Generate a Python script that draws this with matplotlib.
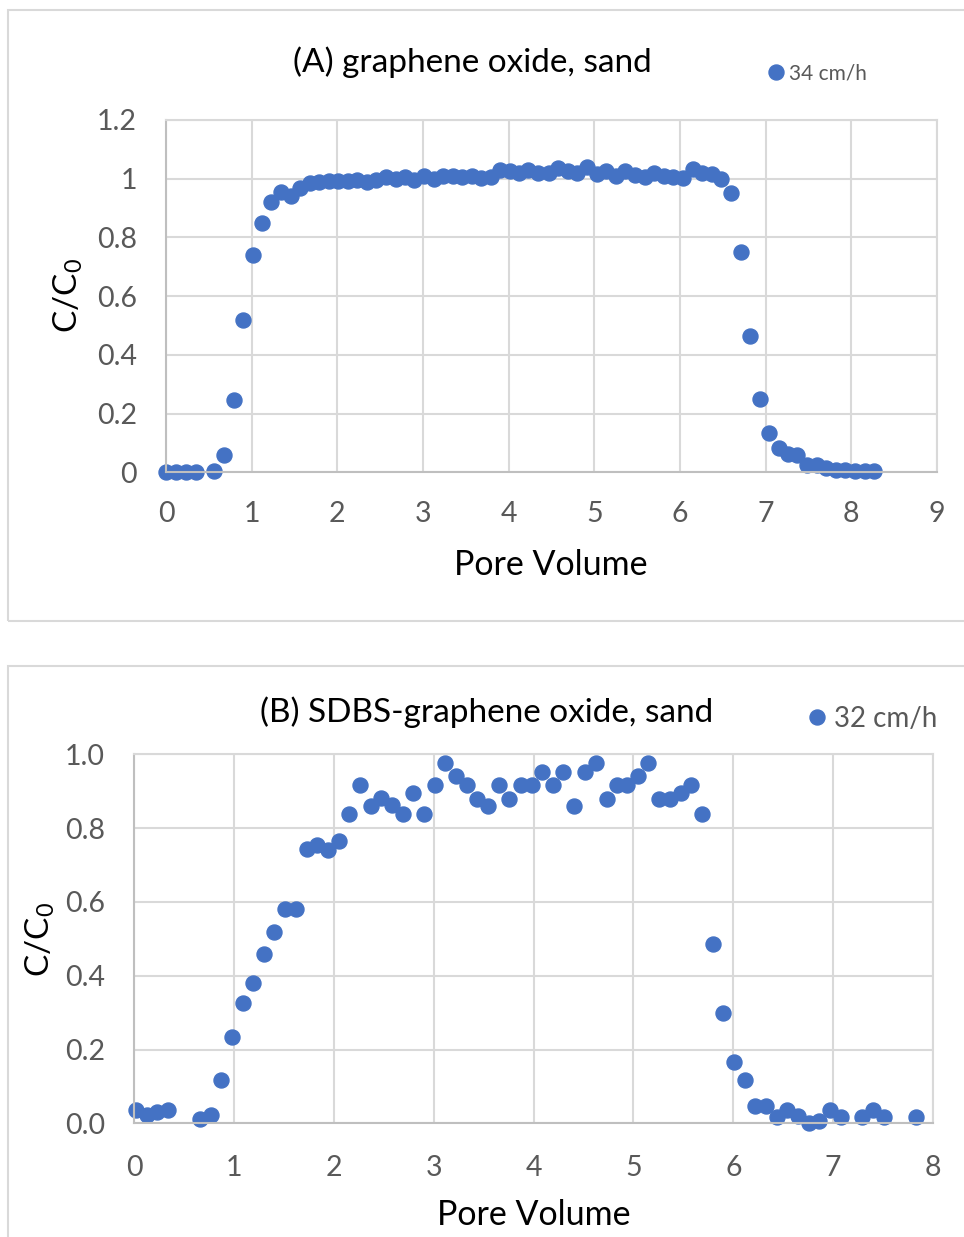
import matplotlib
matplotlib.use("Agg")
import matplotlib.pyplot as plt
from matplotlib.patches import Rectangle

plt.rcParams['font.family'] = ['Lato', 'DejaVu Sans']
plt.rcParams['mathtext.fontset'] = 'custom'
plt.rcParams['mathtext.rm'] = 'Lato'

# (A) graphene oxide, sand - 34 cm/h
pv_a = [0, 0.115, 0.23, 0.35, 0.56, 0.68, 0.79, 0.90, 1.01, 1.12,
        1.23, 1.345, 1.455, 1.57, 1.68, 1.79, 1.905, 2.01, 2.12, 2.235,
        2.345, 2.455, 2.57, 2.68, 2.79, 2.90, 3.01, 3.125, 3.23, 3.35,
        3.46, 3.57, 3.68, 3.79, 3.90, 4.01, 4.12, 4.23, 4.34, 4.47,
        4.58, 4.69, 4.80, 4.92, 5.03, 5.14, 5.25, 5.36, 5.47, 5.59,
        5.70, 5.81, 5.92, 6.03, 6.15, 6.26, 6.37, 6.48, 6.59, 6.71,
        6.82, 6.93, 7.04, 7.15, 7.26, 7.37, 7.48, 7.60, 7.71, 7.82,
        7.93, 8.04, 8.16, 8.27]
cc_a = [0.002, 0.0, 0.0, 0.001, 0.005, 0.06, 0.245, 0.52, 0.74, 0.85,
        0.92, 0.955, 0.94, 0.97, 0.985, 0.99, 0.993, 0.993, 0.993, 0.997,
        0.99, 0.997, 1.007, 1.0, 1.005, 0.997, 1.01, 1.0, 1.01, 1.01,
        1.007, 1.01, 1.002, 1.007, 1.03, 1.025, 1.02, 1.03, 1.02, 1.02,
        1.035, 1.027, 1.018, 1.039, 1.016, 1.027, 1.009, 1.027, 1.013, 1.007,
        1.02, 1.009, 1.007, 1.003, 1.032, 1.018, 1.016, 0.999, 0.95, 0.751,
        0.464, 0.248, 0.134, 0.084, 0.064, 0.058, 0.026, 0.024, 0.016, 0.009,
        0.009, 0.003, 0.003, 0.003]

# (B) SDBS-graphene oxide, sand - 32 cm/h
pv_b = [0.014, 0.124, 0.23, 0.34, 0.658, 0.765, 0.872, 0.979, 1.086, 1.192,
        1.30, 1.403, 1.51, 1.62, 1.727, 1.834, 1.94, 2.048, 2.154, 2.26,
        2.37, 2.475, 2.58, 2.69, 2.796, 2.90, 3.01, 3.116, 3.22, 3.33,
        3.437, 3.54, 3.65, 3.757, 3.87, 3.98, 4.08, 4.19, 4.295, 4.40,
        4.51, 4.62, 4.73, 4.83, 4.94, 5.05, 5.15, 5.26, 5.37, 5.475,
        5.58, 5.69, 5.795, 5.90, 6.01, 6.12, 6.22, 6.33, 6.437, 6.54,
        6.65, 6.757, 6.86, 6.97, 7.08, 7.29, 7.40, 7.505, 7.83]
cc_b = [0.036, 0.022, 0.03, 0.036, 0.013, 0.022, 0.116, 0.235, 0.327, 0.38,
        0.46, 0.519, 0.58, 0.58, 0.743, 0.753, 0.742, 0.766, 0.837, 0.917,
        0.86, 0.882, 0.862, 0.838, 0.894, 0.838, 0.917, 0.976, 0.941, 0.917,
        0.88, 0.86, 0.917, 0.88, 0.917, 0.917, 0.951, 0.917, 0.951, 0.86,
        0.951, 0.976, 0.88, 0.917, 0.917, 0.941, 0.976, 0.88, 0.88, 0.894,
        0.917, 0.838, 0.485, 0.298, 0.167, 0.117, 0.047, 0.047, 0.018, 0.036,
        0.02, 0.002, 0.007, 0.036, 0.018, 0.018, 0.036, 0.018, 0.018]

xticks_a = [0, 1, 2, 3, 4, 5, 6, 7, 8, 9]
yticks_a = [0, 0.2, 0.4, 0.6, 0.8, 1.0, 1.2]
ylabels_a = ['0', '0.2', '0.4', '0.6', '0.8', '1', '1.2']
xticks_b = [0, 1, 2, 3, 4, 5, 6, 7, 8]
yticks_b = [0, 0.2, 0.4, 0.6, 0.8, 1.0]
ylabels_b = ['0.0', '0.2', '0.4', '0.6', '0.8', '1.0']

W, H = 964, 1237
BLUE = '#4472C4'
GRID = '#D9D9D9'
TICK = '#595959'

fig = plt.figure(figsize=(W / 100, H / 100), dpi=100)


def fx(px):
    return px / W


def fy(py):
    return 1 - py / H


# chart area borders
fig.patches.append(Rectangle((fx(8), fy(621)), fx(975) - fx(8), fy(10) - fy(621),
                             transform=fig.transFigure, fill=False,
                             edgecolor=GRID, linewidth=1.5))
fig.patches.append(Rectangle((fx(8), fy(1260)), fx(975) - fx(8), fy(666) - fy(1260),
                             transform=fig.transFigure, fill=False,
                             edgecolor=GRID, linewidth=1.5))


def style(ax, xt, yt, ylab, xlim, ylim, xpad, ypad):
    ax.set_xlim(xlim)
    ax.set_ylim(ylim)
    ax.set_xticks(xt)
    ax.set_yticks(yt)
    ax.set_yticklabels(ylab)
    ax.grid(True, color=GRID, linewidth=1.5)
    ax.set_axisbelow(True)
    for s in ax.spines.values():
        s.set_color(GRID)
        s.set_linewidth(1.5)
    ax.spines['left'].set_color('#BFBFBF')
    ax.spines['bottom'].set_color('#BFBFBF')
    ax.tick_params(length=0, labelsize=20.5, labelcolor=TICK)
    ax.tick_params(axis='x', pad=xpad)
    ax.tick_params(axis='y', pad=ypad)


# panel A
axa = fig.add_axes([fx(166), fy(472.3), fx(937) - fx(166), fy(120) - fy(472.3)])
axa.plot(pv_a, cc_a, 'o', color=BLUE, markersize=10.8, label='34 cm/h', clip_on=False)
style(axa, xticks_a, yticks_a, ylabels_a, (0, 9), (0, 1.2), 21, 21)
fig.text(fx(472), fy(62), '(A) graphene oxide, sand', fontsize=24, ha='center', va='center')
fig.text(fx(551), fy(565), 'Pore Volume', fontsize=24.5, ha='center', va='center')
fig.text(fx(68), fy(296), r'C/C$_\mathregular{0}$', fontsize=24, ha='center', va='center',
         rotation=90)
axa.legend(loc='center left', bbox_to_anchor=(fx(769), fy(73)), bbox_transform=fig.transFigure,
           frameon=False, fontsize=15, handlelength=0.7, handletextpad=0.25,
           borderpad=0, borderaxespad=0, labelcolor=TICK)

# panel B
axb = fig.add_axes([fx(134.3), fy(1123.3), fx(933) - fx(134.3), fy(754.3) - fy(1123.3)])
axb.plot(pv_b, cc_b, 'o', color=BLUE, markersize=10.8, label='32 cm/h', clip_on=False)
style(axb, xticks_b, yticks_b, ylabels_b, (0, 8), (0, 1.0), 23, 21)
fig.text(fx(487), fy(712), '(B) SDBS-graphene oxide, sand', fontsize=24, ha='center',
         va='center')
fig.text(fx(534), fy(1215), 'Pore Volume', fontsize=24.5, ha='center', va='center')
fig.text(fx(40), fy(940), r'C/C$_\mathregular{0}$', fontsize=24, ha='center', va='center',
         rotation=90)
axb.legend(loc='center left', bbox_to_anchor=(fx(809), fy(719)), bbox_transform=fig.transFigure,
           frameon=False, fontsize=20, handlelength=0.55, handletextpad=0.35,
           borderpad=0, borderaxespad=0, labelcolor=TICK)

fig.savefig('out.png', dpi=100)
